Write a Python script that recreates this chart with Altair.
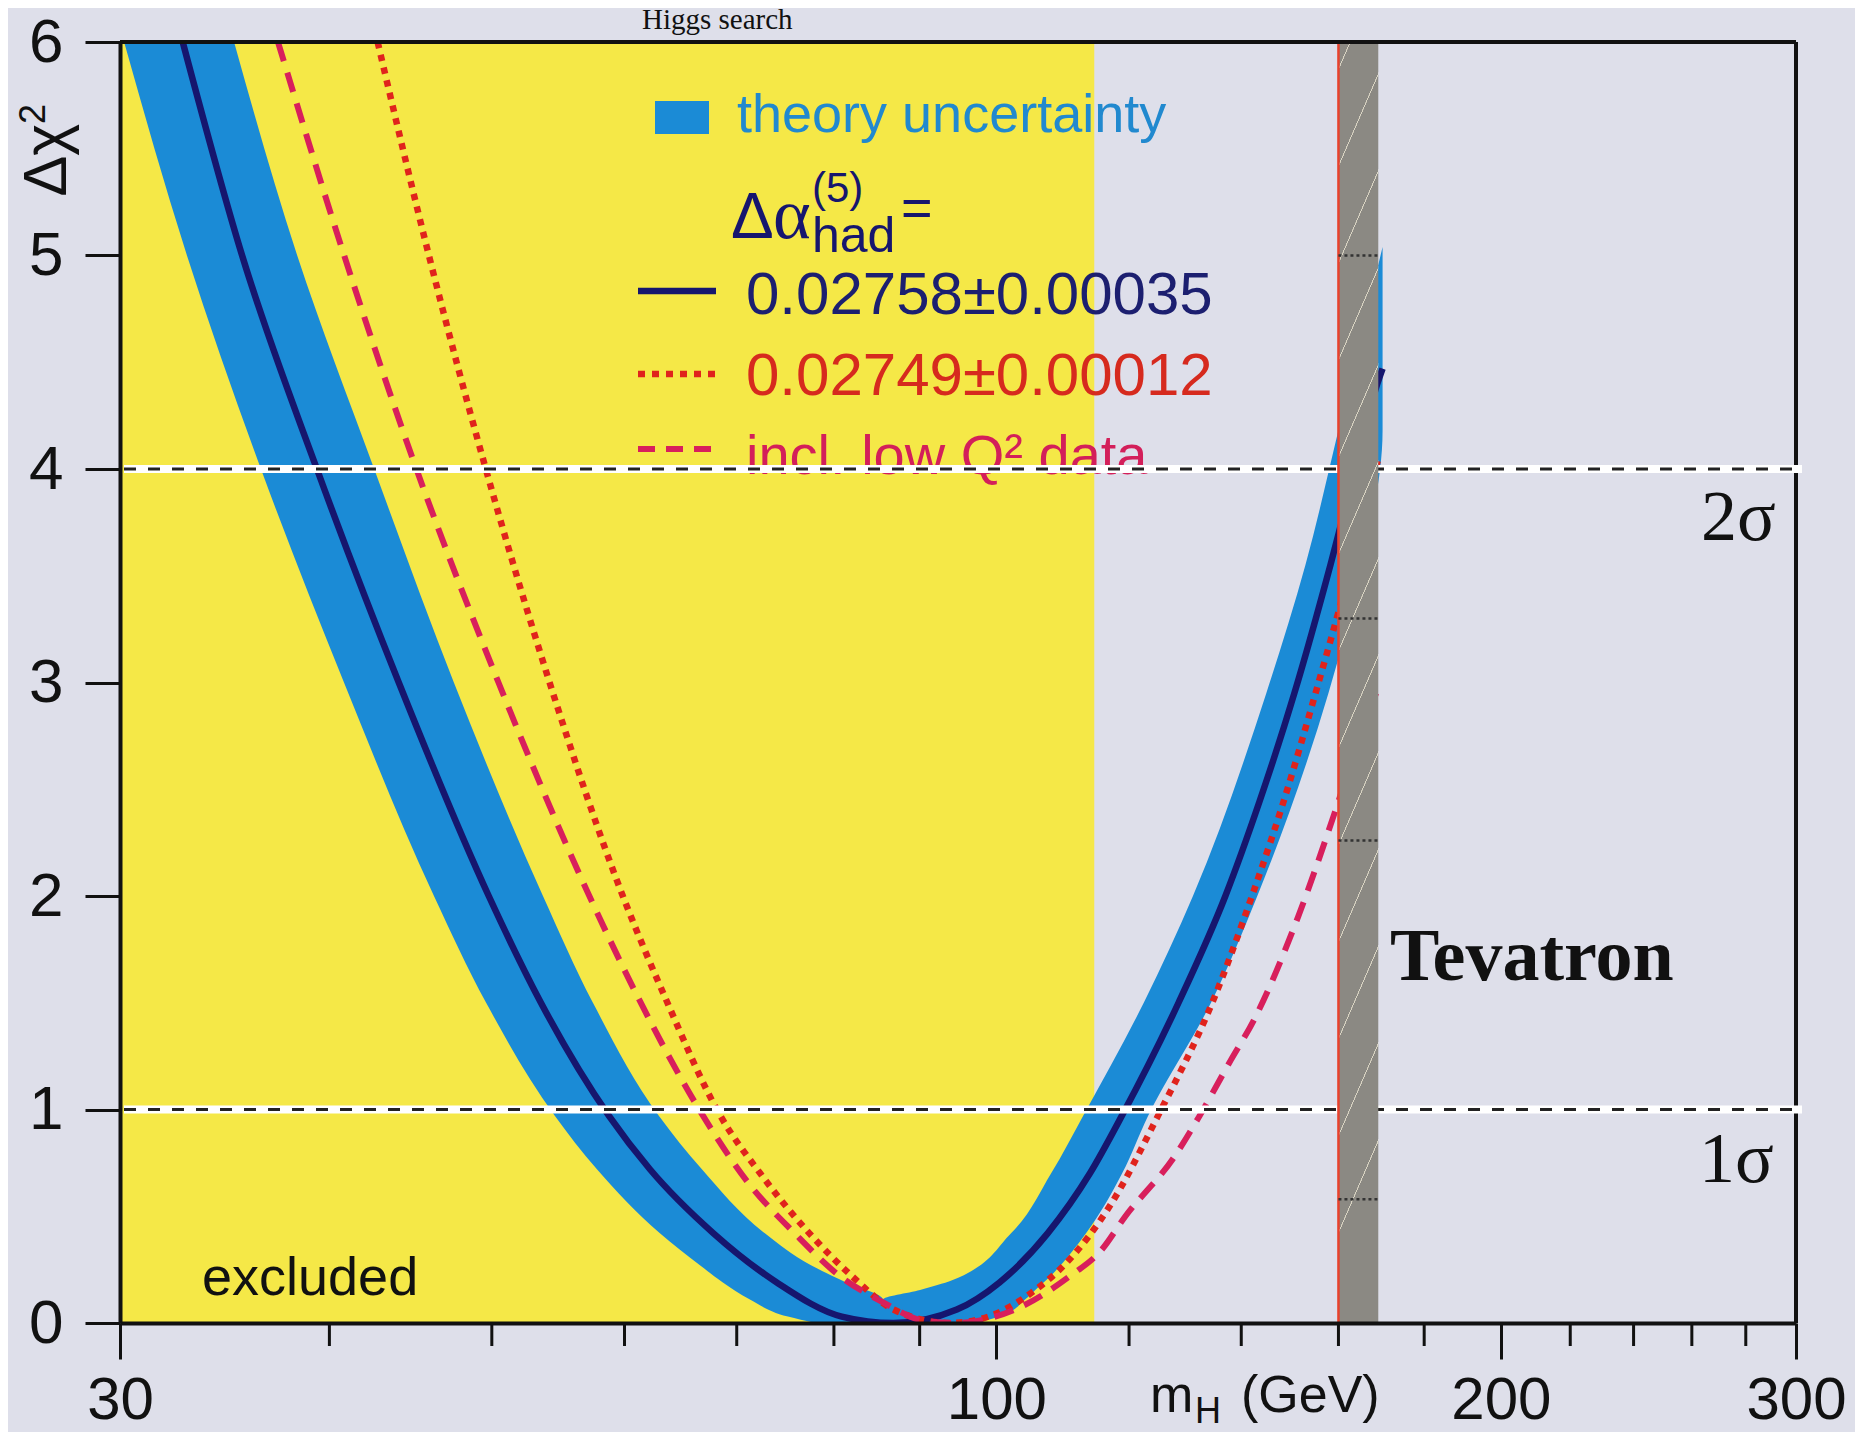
import altair as alt
import pandas as pd

# ---------------- values ----------------
# central fit, Delta alpha_had = 0.02758 +- 0.00035   (m_H [GeV], delta chi^2)
navy_m = [32.70, 35.48, 39.32, 44.00, 49.79, 53.49, 58.73, 62.13, 67.80, 73.96, 80.87, 86.82,
          94.71, 100.44, 107.30, 113.70, 118.81, 128.44, 136.98, 143.52, 150.60, 158.24,
          163.77, 168.79, 170.0]
navy_v = [6.0, 5.0, 4.0, 3.0, 2.0, 1.5, 0.97, 0.72, 0.42, 0.19, 0.03, 0.0,
          0.063, 0.19, 0.42, 0.70, 0.97, 1.5, 2.0, 2.44, 2.95, 3.55, 4.0, 4.4, 4.47]

# Delta alpha_had = 0.02749 +- 0.00012
red_m = [42.74, 45.86, 49.59, 54.13, 59.86, 63.48, 68.45, 72.31, 77.35, 81.99, 86.82, 93.81,
         98.92, 104.87, 110.04, 116.91, 124.86, 134.85, 142.08, 149.16, 154.78, 161.28,
         167.17, 169.0]
red_v = [6.0, 5.0, 4.0, 3.0, 2.0, 1.52, 0.97, 0.70, 0.42, 0.22, 0.063, 0.0,
         0.03, 0.14, 0.28, 0.55, 0.97, 1.52, 2.0, 2.5, 2.93, 3.43, 3.9, 4.05]

# incl. low Q^2 data
low_m = [37.27, 40.82, 45.08, 50.46, 57.17, 61.17, 66.84, 71.11, 75.76, 80.65, 85.44, 90.59,
         94.33, 102.58, 110.65, 115.48, 119.40, 127.74, 132.20, 137.98, 142.47, 151.33,
         159.33, 164.82, 168.5]
low_v = [6.0, 5.0, 4.0, 3.0, 2.0, 1.52, 0.97, 0.657, 0.422, 0.22, 0.10, 0.01,
         0.0, 0.063, 0.22, 0.34, 0.50, 0.78, 0.97, 1.23, 1.42, 1.90,
         2.40, 2.75, 2.95]

# theory-uncertainty band, left branch: level, low-mass edge, high-mass edge
band_l_v = [0.0, 0.03, 0.11, 0.19, 0.27, 0.42, 0.72, 0.97, 1.5, 2.0, 3.0, 4.0, 5.0, 6.0]
band_l_lo = [77.95, 75.10, 71.28, 68.68, 66.55, 62.99, 57.77, 54.53, 49.61, 46.18, 40.81,
             36.41, 32.89, 30.17]
band_l_hi = [85.58, 85.58, 85.58, 81.35, 77.52, 72.76, 66.73, 62.91, 57.45, 53.64, 47.46,
             42.54, 38.27, 35.09]

# theory-uncertainty band, right branch
band_r_v = [0.0, 0.03, 0.11, 0.155, 0.2, 0.42, 0.7, 0.97, 1.5, 2.0, 2.95, 3.55, 4.18, 4.6, 5.04]
band_r_lo = [85.58, 85.58, 85.58, 90.05, 94.10, 102.04, 107.80, 112.65, 122.45, 131.01, 144.90,
             152.90, 159.98, 164.82, 170.0]
band_r_hi = [97.10, 100.49, 104.02, 105.50, 107.07, 113.11, 118.85, 123.17, 134.30, 143.12,
             157.81, 165.27, 170.0, 170.0, 170.0]

excl_range = [30, 114.4]          # LEP excluded
tev_range = [160, 169]            # Tevatron excluded
tev_marks = [5.0, 3.3, 2.26, 0.58]
sigma_levels = [4, 1]
sigma_labels = ["2σ", "1σ"]

x_domain = [30, 300]
y_domain = [0, 6]
x_major = [30, 100, 200, 300]
x_minor = [40, 50, 60, 70, 80, 90, 120, 140, 160, 180, 220, 240, 260, 280]
y_ticks = [0, 1, 2, 3, 4, 5, 6]

title_text = "Higgs search"
legend_texts = ["theory uncertainty", "0.02758±0.00035", "0.02749±0.00012", "incl. low Q² data"]
dalpha_parts = ["Δ", "α", "(5)", "had", "="]
xtitle_parts = ["m", "H", "(GeV)"]
y_title_parts = ["Δχ", "2"]

# ---------------- styling ----------------
W, H = 1676, 1281
BG = "#dedfea"
YELLOW = "#f5e847"
BLUE = "#1b8bd6"
NAVY = "#16166e"
RED = "#e0231c"
CRIMSON = "#d81f5c"
INK = "#111111"
SANS = "Liberation Sans, Arial, sans-serif"
SERIF = "Liberation Serif, Times New Roman, serif"

XS = alt.Scale(type="log", domain=x_domain, nice=False)
YS = alt.Scale(domain=y_domain, nice=False, zero=False)

x_axis = alt.Axis(values=x_major, tickSize=36, tickWidth=3, tickColor=INK,
                  domainWidth=4, domainColor=INK, labelFont=SANS, labelFontSize=60,
                  labelColor=INK, labelPadding=59, labelBaseline="alphabetic",
                  labelFlush=False, labelOverlap=False, format="d", grid=False,
                  title=None, zindex=1)
y_axis = alt.Axis(values=y_ticks, tickSize=35, tickWidth=3, tickColor=INK,
                  domainWidth=4, domainColor=INK, labelFont=SANS, labelFontSize=62,
                  labelColor=INK, labelPadding=22, labelBaseline="middle", format="d",
                  grid=False, title=y_title_parts[0], titleFont=SANS, titleFontSize=61,
                  titleFontWeight="normal", titleColor=INK, titleAngle=270,
                  titleX=-55, titleY=154, titleAlign="left", titleBaseline="alphabetic",
                  zindex=1)


def X(f):
    return alt.X(f, type="quantitative", scale=XS, axis=x_axis, title=None)


def Y(f):
    return alt.Y(f, type="quantitative", scale=YS, axis=y_axis, title=None)


def label(text, x, y, size, font, color=INK, weight="normal", align="left", angle=0):
    return alt.Chart(pd.DataFrame({"t": [text]})).mark_text(
        align=align, baseline="alphabetic", font=font, fontSize=size,
        fontWeight=weight, color=color, angle=angle).encode(
        x=alt.value(x), y=alt.value(y), text="t:N")


def seg(x0, x1, y, color, width, dash=None):
    kw = dict(color=color, strokeWidth=width, strokeCap="butt")
    if dash:
        kw["strokeDash"] = dash
    return alt.Chart(pd.DataFrame({"k": [0]})).mark_rule(**kw).encode(
        x=alt.value(x0), x2=alt.value(x1), y=alt.value(y))


excl_df = pd.DataFrame({"m0": [excl_range[0]], "m1": [excl_range[1]],
                        "v0": [y_domain[0]], "v1": [y_domain[1]]})
tev_df = pd.DataFrame({"m0": [tev_range[0]], "m1": [tev_range[1]],
                       "v0": [y_domain[0]], "v1": [y_domain[1]]})
tev_marks_df = pd.DataFrame({"v": tev_marks, "m0": tev_range[0], "m1": tev_range[1]})
band_l = pd.DataFrame({"v": band_l_v, "lo": band_l_lo, "hi": band_l_hi})
band_r = pd.DataFrame({"v": band_r_v, "lo": band_r_lo, "hi": band_r_hi})
navy = pd.DataFrame({"m": navy_m, "v": navy_v})
red = pd.DataFrame({"m": red_m, "v": red_v})
low = pd.DataFrame({"m": low_m, "v": low_v})
sig = pd.DataFrame({"v": sigma_levels})
minor = pd.DataFrame({"m": x_minor})
frame_top = pd.DataFrame({"m0": [x_domain[0]], "m1": [x_domain[1]], "v": [y_domain[1]]})
frame_right = pd.DataFrame({"m": [x_domain[1]], "v0": [y_domain[0]], "v1": [y_domain[1]]})

layers = []
layers.append(alt.Chart(excl_df).mark_rect(color=YELLOW).encode(
    x=X("m0"), x2="m1", y=Y("v0"), y2="v1"))
layers.append(alt.Chart(band_l).mark_area(orient="horizontal", interpolate="monotone",
                                          color=BLUE, clip=True).encode(
    y=Y("v"), x=X("lo"), x2="hi"))
layers.append(alt.Chart(band_r).mark_area(orient="horizontal", interpolate="monotone",
                                          color=BLUE, clip=True).encode(
    y=Y("v"), x=X("lo"), x2="hi"))
layers.append(alt.Chart(navy).mark_line(color=NAVY, strokeWidth=6.5, interpolate="monotone",
                                        clip=True).encode(x=X("m"), y=Y("v")))
layers.append(alt.Chart(red).mark_line(color=RED, strokeWidth=6.5, strokeDash=[6.5, 6.5],
                                       strokeCap="butt", interpolate="monotone",
                                       clip=True).encode(x=X("m"), y=Y("v")))
layers.append(alt.Chart(low).mark_line(color=CRIMSON, strokeWidth=6, strokeDash=[20, 12],
                                       strokeCap="butt", interpolate="monotone",
                                       clip=True).encode(x=X("m"), y=Y("v")))
# minor ticks of the mass axis
layers.append(alt.Chart(minor).mark_rule(color=INK, strokeWidth=3).encode(
    x=X("m"), y=alt.value(H), y2=alt.value(H + 23)))

# legend
layers.append(alt.Chart(pd.DataFrame({"k": [0]})).mark_rect(color=BLUE).encode(
    x=alt.value(535), x2=alt.value(589), y=alt.value(59), y2=alt.value(92)))
layers.append(label(legend_texts[0], 617, 90, 54, SANS, color="#2189cf"))
layers.append(label(dalpha_parts[0], 611, 196, 64, SANS, color=NAVY))
layers.append(label(dalpha_parts[1], 653, 196, 72, SERIF, color=NAVY))
layers.append(label(dalpha_parts[2], 692, 160, 42, SANS, color=NAVY))
layers.append(label(dalpha_parts[3], 692, 210, 50, SANS, color=NAVY))
layers.append(label(dalpha_parts[4], 781, 184, 54, SANS, color=NAVY))
layers.append(seg(518, 596, 249, NAVY, 6.5))
layers.append(label(legend_texts[1], 626, 272, 60, SANS, color="#1c1f70"))
layers.append(seg(518, 596, 332, RED, 6.5, [7, 7]))
layers.append(label(legend_texts[2], 626, 353, 60, SANS, color="#d62a1e"))
layers.append(seg(518, 599, 407, CRIMSON, 6, [17, 11]))
layers.append(label(legend_texts[3], 626, 432, 56, SANS, color="#d31f5a"))

# right frame
layers.append(alt.Chart(frame_right).mark_rule(color=INK, strokeWidth=4).encode(
    x=X("m"), y=Y("v0"), y2="v1"))
# 1 sigma / 2 sigma lines
layers.append(alt.Chart(sig).mark_rule(color="white", strokeWidth=8).encode(
    y=Y("v"), x=alt.value(4), x2=alt.value(W + 6)))
layers.append(alt.Chart(sig).mark_rule(color="#222222", strokeWidth=3, strokeDash=[12, 12]).encode(
    y=Y("v"), x=alt.value(4), x2=alt.value(W + 6)))

# Tevatron band with pale diagonal hatching
GRAY = "#8b8983"
PALE = "#d8d3c2"
stops = [{"offset": 0, "color": GRAY}]
for k in range(14):
    t0 = 0.02 + k * 0.0753
    if t0 + 0.003 >= 1:
        break
    stops += [{"offset": t0, "color": GRAY}, {"offset": t0 + 0.0003, "color": PALE},
              {"offset": t0 + 0.0019, "color": PALE}, {"offset": t0 + 0.0022, "color": GRAY}]
stops.append({"offset": 1, "color": GRAY})
hatch = {"gradient": "linear", "stops": stops, "x1": 0, "y1": 0, "x2": 0.0718, "y2": 1}
layers.append(alt.Chart(tev_df).mark_rect(fill=hatch).encode(
    x=X("m0"), x2="m1", y=Y("v0"), y2="v1"))
layers.append(alt.Chart(tev_df).mark_rule(color="#e8412c", strokeWidth=2.5).encode(
    x=X("m0"), y=Y("v0"), y2="v1"))
layers.append(alt.Chart(tev_marks_df).mark_rule(color="#333333", strokeWidth=2.5,
                                                strokeDash=[3, 3]).encode(
    y=Y("v"), x=X("m0"), x2="m1"))
# top frame
layers.append(alt.Chart(frame_top).mark_rule(color=INK, strokeWidth=4).encode(
    x=X("m0"), x2="m1", y=Y("v")))

# annotations
layers.append(label(y_title_parts[1], -75, 82, 36, SANS, angle=270))
layers.append(label("Tevatron", 1270, 938, 74, SERIF, weight="bold"))
layers.append(label(sigma_labels[0], 1581, 498, 72, SERIF))
layers.append(label(sigma_labels[1], 1579, 1140, 72, SERIF))
layers.append(label("excluded", 82, 1253, 54, SANS))
layers.append(label(title_text, 522, -13, 29, SERIF))
layers.append(label(xtitle_parts[0], 1030, 1370, 52, SANS))
layers.append(label(xtitle_parts[1], 1075, 1381, 36, SANS))
layers.append(label(xtitle_parts[2], 1121, 1370, 52, SANS))

chart = alt.layer(*layers).properties(
    width=W, height=H,
    autosize=alt.AutoSizeParams(type="none"),
    padding={"left": 112, "top": 34, "right": 59, "bottom": 109},
).configure(background=BG).configure_view(stroke=None)

chart.save("out.html", embed_options={"renderer": "svg", "actions": False})
